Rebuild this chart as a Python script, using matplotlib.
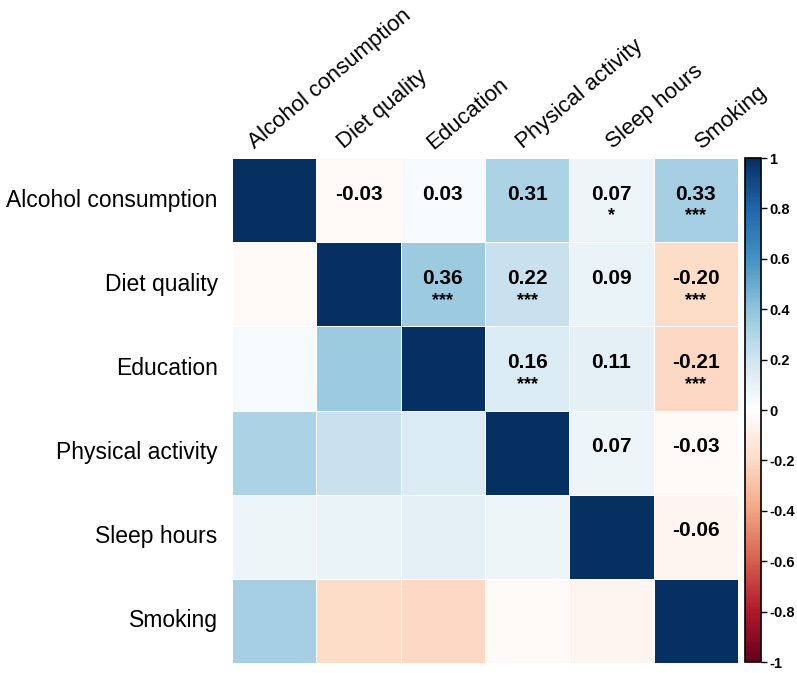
import numpy as np
import matplotlib.pyplot as plt
from matplotlib.colors import LinearSegmentedColormap

plt.rcParams['font.family'] = ['Liberation Sans', 'DejaVu Sans']

labels = ['Alcohol consumption', 'Diet quality', 'Education',
          'Physical activity', 'Sleep hours', 'Smoking']

# correlation matrix
corr = np.array([
    [1.00, -0.03, 0.03, 0.31, 0.07, 0.33],
    [-0.03, 1.00, 0.36, 0.22, 0.09, -0.20],
    [0.03, 0.36, 1.00, 0.16, 0.11, -0.21],
    [0.31, 0.22, 0.16, 1.00, 0.07, -0.03],
    [0.07, 0.09, 0.11, 0.07, 1.00, -0.06],
    [0.33, -0.20, -0.21, -0.03, -0.06, 1.00],
])

# significance stars for the upper triangle
stars = [
    ['', '', '', '', '*', '***'],
    ['', '', '***', '***', '', '***'],
    ['', '', '', '***', '', '***'],
    ['', '', '', '', '', ''],
    ['', '', '', '', '', ''],
    ['', '', '', '', '', ''],
]

##corrplot style RdBu palette
col2 = ["#67001F", "#B2182B", "#D6604D", "#F4A582", "#FDDBC7", "#FFFFFF",
        "#D1E5F0", "#92C5DE", "#4393C3", "#2166AC", "#053061"]
cmap = LinearSegmentedColormap.from_list('col2', col2, N=200)

fig = plt.figure(figsize=(7.97, 6.73), dpi=100)
ax = fig.add_axes([232/797, 1-663/673, 506/797, 505/673])
cax = fig.add_axes([745/797, 1-662/673, 16/797, 504/673])

n = len(labels)
mesh = ax.pcolormesh(np.arange(n+1), np.arange(n+1), corr, cmap=cmap,
                     vmin=-1, vmax=1, edgecolors='white', linewidth=0.6)
ax.set_xlim(0, n)
ax.set_ylim(n, 0)
ax.set_xticks([])
ax.set_yticks([])
for s in ax.spines.values():
    s.set_visible(False)

for i in range(n):
    for j in range(i+1, n):
        ax.text(j+0.5, i+0.43, '%.2f' % corr[i, j], ha='center', va='center',
                fontsize=15, fontweight='bold', color='black')
        if stars[i][j]:
            ax.text(j+0.5, i+0.69, stars[i][j], ha='center', va='center',
                    fontsize=13, fontweight='bold', color='black')

# row labels on the left
for i, lab in enumerate(labels):
    ax.text(-0.17, i+0.5, lab, ha='right', va='center', fontsize=16.5)

# column labels rotated on top
for j, lab in enumerate(labels):
    ax.text(0.27 + 1.06*j, -0.10, lab, ha='left', va='baseline', rotation=40,
            rotation_mode='anchor', fontsize=16)

cb = fig.colorbar(mesh, cax=cax)
cb.set_ticks(np.round(np.arange(-1, 1.01, 0.2), 1))
cb.set_ticklabels(['-1', '-0.8', '-0.6', '-0.4', '-0.2', '0',
                   '0.2', '0.4', '0.6', '0.8', '1'])
cax.tick_params(labelsize=10.5, length=4, width=1, pad=2)
for t in cax.get_yticklabels():
    t.set_fontweight('bold')
cb.outline.set_linewidth(1.2)

plt.savefig('out.png', dpi=100)
